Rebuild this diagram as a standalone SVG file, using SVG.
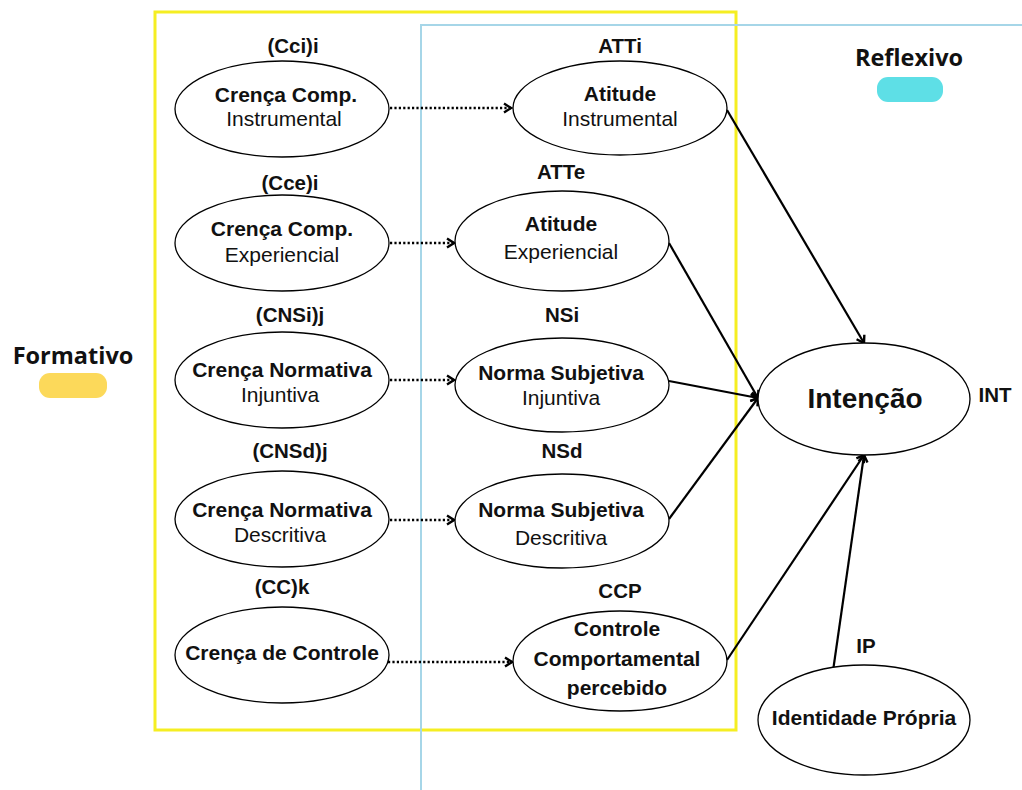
<svg xmlns="http://www.w3.org/2000/svg" width="1022" height="790" viewBox="0 0 1022 790">
<defs>
<style>
.e{fill:#fff;stroke:#000;stroke-width:1.3}
.b{font-family:"Liberation Sans",Arial,sans-serif;font-weight:bold;font-size:21px;text-anchor:middle;fill:#111}
.r{font-family:"Liberation Sans",Arial,sans-serif;font-size:21px;text-anchor:middle;fill:#111}
.l{font-family:"Liberation Sans",Arial,sans-serif;font-weight:bold;font-size:20.5px;text-anchor:middle;fill:#111}
.big{font-size:28px}
.lg{font-family:"Open Sans","Noto Sans",sans-serif;font-weight:bold;font-size:23.5px;text-anchor:middle;fill:#111}
.d{fill:none;stroke:#000;stroke-width:2.6;stroke-dasharray:2.2 2.2}
.s{fill:none;stroke:#000;stroke-width:2.2}
</style>
<marker id="ah" viewBox="0 0 12 12" refX="10" refY="6" markerWidth="12" markerHeight="12" markerUnits="userSpaceOnUse" orient="auto">
<path d="M3,1.5 L10,6 L3,10.5" fill="none" stroke="#000" stroke-width="2.4"/>
</marker>
</defs>
<rect width="1022" height="790" fill="#fff"/>
<g id="frames">
<rect x="155" y="12" width="581" height="718" fill="none" stroke="#f5ee22" stroke-width="3"/>
<path d="M421,790 L421,25 L1022,25" fill="none" stroke="#a6d6e8" stroke-width="2"/>
</g>
<g id="legend">
<text class="lg" x="909" y="66">Reflexivo</text>
<rect x="877" y="77" width="66" height="25" rx="11" fill="#5edfe6"/>
<text class="lg" x="73" y="364">Formativo</text>
<rect x="39" y="373" width="68" height="25" rx="11" fill="#fcd95a"/>
</g>
<g id="connectors">
<path class="d" d="M390,108 L511,108" marker-end="url(#ah)"/>
<path class="d" d="M390,243 L454,243" marker-end="url(#ah)"/>
<path class="d" d="M390,380 L454,380" marker-end="url(#ah)"/>
<path class="d" d="M390,520 L454,520" marker-end="url(#ah)"/>
<path class="d" d="M388,662 L512,662" marker-end="url(#ah)"/>
<path class="s" d="M727,110 L864,343" marker-end="url(#ah)"/>
<path class="s" d="M669,243 L758,398" marker-end="url(#ah)"/>
<path class="s" d="M669,381 L758,398" marker-end="url(#ah)"/>
<path class="s" d="M669,519 L758,398" marker-end="url(#ah)"/>
<path class="s" d="M727,660 L864,455" marker-end="url(#ah)"/>
<path class="s" d="M832,678 L864,455" marker-end="url(#ah)"/>
</g>
<g id="n-cci">
<text class="l" x="293" y="53">(Cci)i</text>
<ellipse class="e" cx="282" cy="109" rx="107" ry="48"/>
<text class="b" x="286" y="102">Crença Comp.</text>
<text class="r" x="284" y="126">Instrumental</text>
</g>
<g id="n-cce">
<text class="l" x="290" y="190">(Cce)i</text>
<ellipse class="e" cx="282" cy="243" rx="107" ry="48"/>
<text class="b" x="282" y="236">Crença Comp.</text>
<text class="r" x="282" y="262">Experiencial</text>
</g>
<g id="n-cnsi">
<text class="l" x="290" y="322">(CNSi)j</text>
<ellipse class="e" cx="282" cy="380" rx="107" ry="48"/>
<text class="b" x="282" y="377">Crença Normativa</text>
<text class="r" x="280" y="402">Injuntiva</text>
</g>
<g id="n-cnsd">
<text class="l" x="290" y="458">(CNSd)j</text>
<ellipse class="e" cx="282" cy="519" rx="107" ry="48"/>
<text class="b" x="282" y="517">Crença Normativa</text>
<text class="r" x="280" y="542">Descritiva</text>
</g>
<g id="n-cc">
<text class="l" x="282" y="594">(CC)k</text>
<ellipse class="e" cx="282" cy="655" rx="107" ry="48"/>
<text class="b" x="282" y="660">Crença de Controle</text>
</g>
<g id="n-atti">
<text class="l" x="620" y="53">ATTi</text>
<ellipse class="e" cx="620" cy="108" rx="107" ry="47"/>
<text class="b" x="620" y="101">Atitude</text>
<text class="r" x="620" y="126">Instrumental</text>
</g>
<g id="n-atte">
<text class="l" x="561" y="179">ATTe</text>
<ellipse class="e" cx="562" cy="241" rx="107" ry="50"/>
<text class="b" x="561" y="231">Atitude</text>
<text class="r" x="561" y="259">Experiencial</text>
</g>
<g id="n-nsi">
<text class="l" x="562" y="322">NSi</text>
<ellipse class="e" cx="562" cy="385" rx="107" ry="47"/>
<text class="b" x="561" y="380">Norma Subjetiva</text>
<text class="r" x="561" y="405">Injuntiva</text>
</g>
<g id="n-nsd">
<text class="l" x="562" y="458">NSd</text>
<ellipse class="e" cx="562" cy="521" rx="107" ry="47"/>
<text class="b" x="561" y="517">Norma Subjetiva</text>
<text class="r" x="561" y="545">Descritiva</text>
</g>
<g id="n-ccp">
<text class="l" x="620" y="598">CCP</text>
<ellipse class="e" cx="620" cy="661" rx="107" ry="50"/>
<text class="b" x="617" y="636">Controle</text>
<text class="b" x="617" y="666">Comportamental</text>
<text class="b" x="617" y="695">percebido</text>
</g>
<g id="n-int">
<ellipse class="e" cx="864" cy="399" rx="106" ry="56"/>
<text class="b big" x="865" y="408">Intenção</text>
<text class="l" x="995" y="402">INT</text>
</g>
<g id="n-ip">
<text class="l" x="866" y="653">IP</text>
<ellipse class="e" cx="864" cy="720" rx="106" ry="55"/>
<text class="b" x="864" y="725">Identidade Própria</text>
</g>
</svg>
